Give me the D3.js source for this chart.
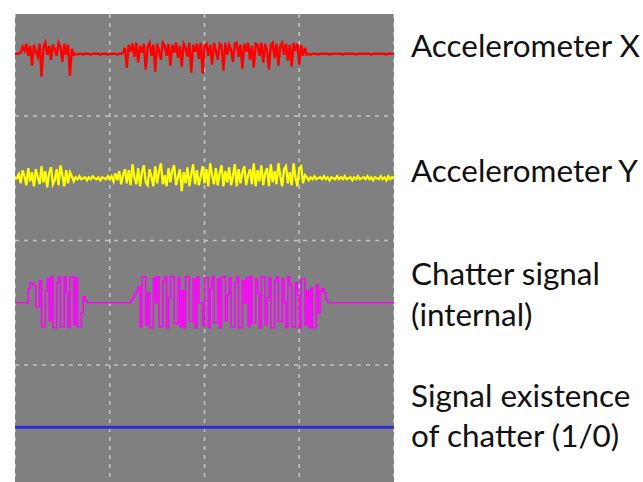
<!DOCTYPE html>
<html>
<head>
<meta charset="utf-8">
<script src="https://cdn.jsdelivr.net/npm/d3@7"></script>
<style>
html,body{margin:0;padding:0;background:#fff;}
svg{display:block;}
</style>
</head>
<body>
<svg id="chart" width="643" height="482"></svg>
<script>
// ---- DATA ----
const sampleStep = 2;               // time units between samples (0..400)
const timeDivisions = [0, 100, 200, 300, 400];
const labelLines = [
  ["Accelerometer X"],
  ["Accelerometer Y"],
  ["Chatter signal", "(internal)"],
  ["Signal existence", "of chatter (1/0)"]
];
const accelX = [
  0,0,0,1,
  7,3,10,-2,8,-12,9,2,-3,10, -23,6,11,-1,8,-6,9,4,-2,11, 7,-8,10,-1,9,-22,5,-1,
  0,-1,0,0,-1,0,0,0,-1,0,0,0,0,-1,0,0,0,-1,0,0,0,0,-1,0,0,1,
  6,-14,9,2,10,-3,11,-9,8,1,
  10,-16,7,11,-2,9,-18,10,3,-6,
  11,8,-2,10,-12,9,1,11,-4,8,
  -13,10,6,-3,11,-19,9,2,10,-5,
  11,-20,8,10,-2,9,-11,11,3,-6,
  10,8,-17,11,-1,9,4,-8,10,11,
  -3,9,-15,10,2,11,-6,8,-14,10,
  9,-2,11,-9,10,3,-16,9,11,-4,
  10,-12,8,11,-1,10,-7,9,-13,11,
  3,10,-11,9,-2,6,-1,
  0,-1,0,0,0,-1,0,0,0,0, 0,-1,0,0,0,0,0,0,-1,0, 0,0,0,0,0,-1,0,0,0,0, 0,0,0,-1,0,0,0,0,0,0, 0,-1,0,0,0,0
];
const accelY = [
  0,0,
  4,-5,8,2,-7,10,-3,6,-8,9, 1,-6,12,-4,7,-9,5,11,-6,-2, 9,-7,13,3,-8,8,-5,6,2,-3,
  1,-1,2,-1,0,1,-2,1,-1,2,0,-1,1,-2,1,0,-1,2,-1,
  2,-3,5,-2,7,-6,3,9,-5,8,
  -7,14,1,-6,10,-8,6,13,-4,-7,
  9,2,-8,12,-5,7,15,-6,3,-8,
  10,-4,8,13,-7,1,9,-13,6,-5,
  11,-8,4,14,-6,8,-7,2,12,-5,
  9,-8,15,3,-6,10,-7,5,13,-8,
  7,-4,11,-7,2,14,-8,9,-5,6,
  12,-7,3,9,-6,15,-8,8,-3,13,
  -7,5,10,-8,14,-4,7,-6,15,2,
  -8,9,12,-5,6,-7,15,1,-8,10,
  12,-5,3,
  1,-2,1,-1,2,-1,0,1,-1,2, -1,1,-2,1,0,-1,2,-1,1,-1, 2,-1,0,1,-2,1,-1,2,-1,0, 1,-1,2,-1,1,-2,1,0,-1,2, -1,1,-2,2,-1,1,0
];
const chatter = [
  0,0,0,0,0,0,0,
  14,20,19,17,-4,-4,22,-24,-24,12, 24,-18,26,-25,-25,20,26,-24,-24,26, 10,-25,26,26,-22,25,-24,-24,-10,6, 2,
  0,0,0,0,0,0,0,0,0,0,0,0,0,0,0,0,0,0,0,0,0,0,0,
  2,5,9,12,16,
  -24,26,26,-22,10,-25,-25,25,0,26,
  -24,-24,22,26,-25,5,26,26,-21,-21,
  25,-24,12,-25,26,26,-19,-19,24,-25,
  26,0,0,-23,25,25,-25,14,26,-20,
  -20,24,-25,26,26,-18,8,25,-24,-24,
  20,26,-25,-25,22,0,25,-24,26,-20,
  -20,24,10,-25,26,26,-22,5,25,-25,
  -25,22,26,-19,-19,24,0,-25,26,18,
  -24,-24,20,8,-25,24,24,-22,12,-25,
  15,-25,-25,18,-10,
  12,14,10,3,0,
  0,0,0,0,0,0,0,0,0,0,0,0,0,0,0,0,0,0,0,0,0,0,0,0,0,0,0,0,0,0,0,0,0,0,0
];
const existenceTimes = [0, 400];
const existence = [0, 0];
const channelColors = ["#ff0000", "#ffff00", "#ff00ff", "#2a2ae6"];

// ---- LAYOUT ----
const svg = d3.select("#chart");
const plot = {left: 15, right: 394, top: 14, bottom: 482};
const rowTop0 = -8.5, rowH = 124.5;

const x = d3.scaleLinear().domain([0, 400]).range([plot.left, plot.right]);
const yRow = k => d3.scaleLinear().domain([-62.25, 62.25]).range([rowTop0 + (k + 1) * rowH, rowTop0 + k * rowH]);

svg.append("defs").append("clipPath").attr("id", "clip")
  .append("rect").attr("x", plot.left).attr("y", plot.top)
  .attr("width", plot.right - plot.left).attr("height", plot.bottom - plot.top);

svg.append("rect").attr("x", plot.left).attr("y", plot.top)
  .attr("width", plot.right - plot.left).attr("height", plot.bottom - plot.top)
  .attr("fill", "#808080");

const g = svg.append("g").attr("clip-path", "url(#clip)");

// grid
const gridColor = "#c4c4c4";
g.selectAll("line.v").data(timeDivisions).join("line")
  .attr("x1", d => x(d)).attr("x2", d => x(d))
  .attr("y1", plot.top).attr("y2", plot.bottom)
  .attr("stroke", gridColor).attr("stroke-width", 1.6)
  .attr("stroke-dasharray", "4,5");
const rowBounds = [1, 2, 3].map(k => yRow(k).range()[1]);
g.selectAll("line.h").data(rowBounds).join("line")
  .attr("x1", plot.left).attr("x2", plot.right)
  .attr("y1", d => d).attr("y2", d => d)
  .attr("stroke", gridColor).attr("stroke-width", 1.6)
  .attr("stroke-dasharray", "4,5");

// traces
function trace(values, times, k, color, width, curve) {
  const y = yRow(k);
  const line = d3.line()
    .x((d, i) => x(times ? times[i] : i * sampleStep))
    .y(d => y(d))
    .curve(curve || d3.curveLinear);
  g.append("path").datum(values)
    .attr("d", line).attr("fill", "none")
    .attr("stroke", color).attr("stroke-width", width)
    .attr("stroke-linejoin", "miter");
}
trace(accelX, null, 0, channelColors[0], 2.4);
trace(accelY, null, 1, channelColors[1], 2.3);
trace(chatter, null, 2, channelColors[2], 1.6, d3.curveStepAfter);
trace(existence, existenceTimes, 3, "#8c8c5a", 4.5);
trace(existence, existenceTimes, 3, channelColors[3], 3);

// labels
const labelY = [[57], [182], [285, 326], [407, 447]];
const lg = svg.append("g").attr("font-family", "Lato, 'Open Sans', sans-serif").attr("fill", "#111");
const texts = [];
labelLines.forEach((lines, k) => {
  lines.forEach((s, j) => {
    texts.push(lg.append("text").attr("x", 411).attr("y", labelY[k][j]).attr("font-size", 30).text(s));
  });
});
const w = texts[0].node().getComputedTextLength();
const fs = 30 * 229 / w;
texts.forEach(t => t.attr("font-size", fs));
</script>
</body>
</html>
